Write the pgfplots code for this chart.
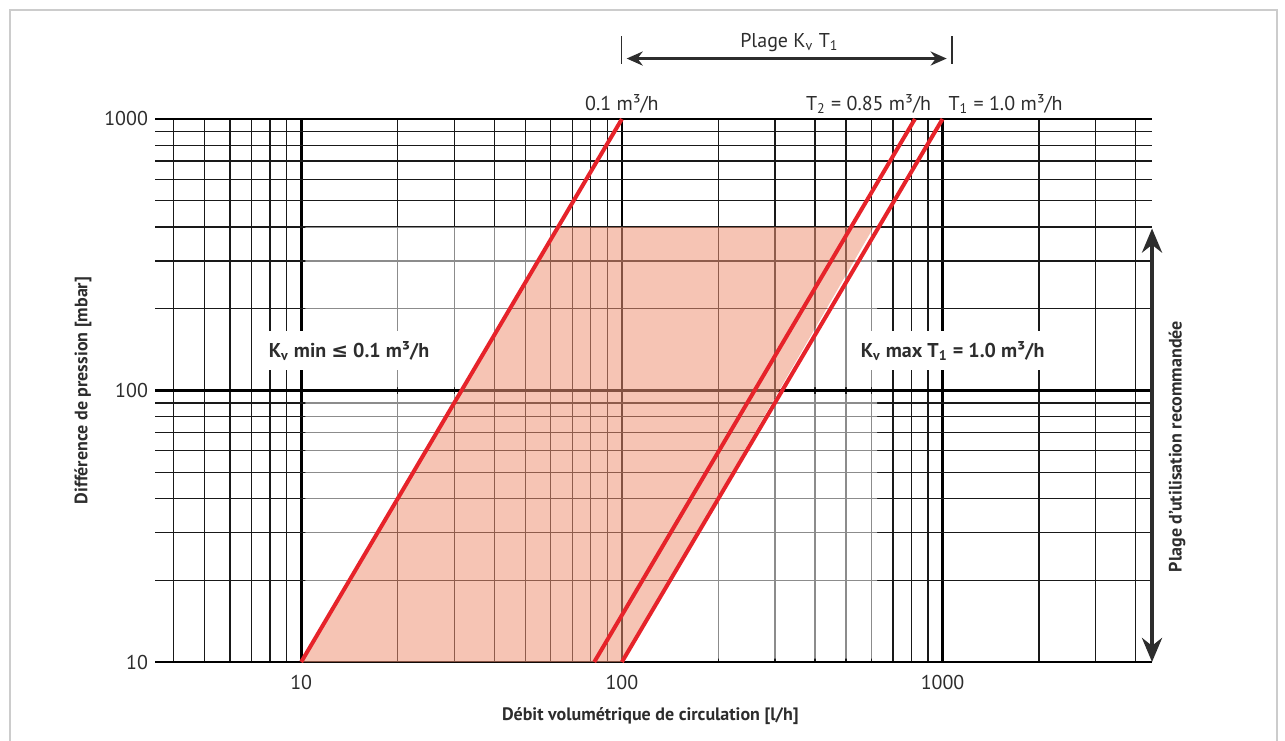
\documentclass[border=0pt]{standalone}
\usepackage{fontspec}
\setmainfont{PT Sans}
\newfontfamily\symf{DejaVu Sans}
\usepackage{pgfplots}
\pgfplotsset{compat=1.18}
\usetikzlibrary{arrows.meta}
\definecolor{shade}{RGB}{239,148,119}
\definecolor{kvred}{RGB}{230,35,42}
\definecolor{txt}{RGB}{45,45,45}
\begin{document}
\begin{tikzpicture}
\path[use as bounding box] (0,0) rectangle (642.5pt,370pt);
\draw[black!20, line width=0.8pt] (5pt,-5pt) -- (5pt,365pt) -- (638.5pt,365pt) -- (638.5pt,-5pt);
\begin{axis}[
  at={(77.5pt,39pt)}, anchor=south west,
  scale only axis, width=498.5pt, height=271.5pt,
  xmode=log, ymode=log, xmin=3.5, xmax=4500, ymin=10, ymax=1000,
  axis line style={draw=none},
  major tick length=0pt, minor tick length=0pt, clip=false,
  xtick={10,100,1000}, xticklabels={10,100,1000},
  ytick={10,100,1000}, yticklabels={10,100,1000},
  minor xtick={4,5,6,7,8,9,20,30,40,50,60,70,80,90,200,300,400,500,600,700,800,900,2000,3000,4000},
  minor ytick={20,30,40,50,60,70,80,90,200,300,400,500,600,700,800,900},
  grid=both,
  major grid style={black, line width=1.3pt},
  minor grid style={black!90, line width=0.65pt},
  tick label style={font=\fontsize{10}{12}\selectfont, text=txt},
  xticklabel style={yshift=-3pt},
]
% lighter grid in the recommended zone (unshaded parts), sparing the 100 mbar line
\addplot[draw=none, fill=white, fill opacity=0.5] coordinates {(10.3,10.3) (10.3,97) (31.1,97)} -- cycle;
\addplot[draw=none, fill=white, fill opacity=0.5] coordinates {(10.3,103) (10.3,400) (63.25,400) (32.1,103)} -- cycle;
\addplot[draw=none, fill=white, fill opacity=0.5] coordinates {(101,10.3) (305,97) (625,97) (625,10.3)} -- cycle;
\addplot[draw=none, fill=white, fill opacity=0.5] coordinates {(314,103) (610,400) (625,400) (625,103)} -- cycle;
% shaded zone
\addplot[draw=none, fill=shade, fill opacity=0.55] coordinates {(10,10) (63.25,400) (610,400) (100,10)} -- cycle;
% Kv lines
\addplot[kvred, line width=2pt] coordinates {(10,10) (100,1000)};
\addplot[kvred, line width=2pt] coordinates {(82,10) (820,1000)};
\addplot[kvred, line width=2pt] coordinates {(100,10) (1000,1000)};
% top range arrow
\draw[line width=0.6pt, txt] (axis cs:100,1601) -- (axis cs:100,2030);
\draw[line width=0.6pt, txt] (axis cs:1070,1601) -- (axis cs:1070,2030);
\draw[line width=1.6pt, txt, {Stealth[length=8pt,width=7pt]}-{Stealth[length=8pt,width=7pt]}] (axis cs:103.5,1670) -- (axis cs:1030,1670);
\node[text=txt, font=\fontsize{10}{12}\selectfont] at (axis cs:333,1913) {Plage K\textsubscript{v} T\textsubscript{1}};
% labels above the lines
\node[text=txt, font=\fontsize{10}{12}\selectfont] at (axis cs:100,1140) {0.1 m³/h};
\node[text=txt, font=\fontsize{10}{12}\selectfont] at (axis cs:588,1140) {T\textsubscript{2} = 0.85 m³/h};
\node[text=txt, font=\fontsize{10}{12}\selectfont] at (axis cs:1573,1140) {T\textsubscript{1} = 1.0 m³/h};
% boxed labels
\node[fill=white, text=txt, inner xsep=3pt, inner ysep=5pt, font=\bfseries\fontsize{10}{12}\selectfont] at (axis cs:14.1,140) {K\textsubscript{v} min {\symf\bfseries ≤} 0.1 m³/h};
\node[fill=white, text=txt, inner xsep=3pt, inner ysep=5pt, font=\bfseries\fontsize{10}{12}\selectfont] at (axis cs:1075,140) {K\textsubscript{v} max T\textsubscript{1} = 1.0 m³/h};
% right arrow
\draw[line width=2.2pt, txt, {Stealth[length=12pt,width=10pt]}-{Stealth[length=12pt,width=10pt]}] (axis cs:4500,395) -- (axis cs:4500,10);
\node[rotate=90, text=txt, font=\bfseries\fontsize{9}{11}\selectfont] at (axis cs:5390,62.2) {Plage d’utilisation recommandée};
% axis labels
\node[text=txt, font=\bfseries\fontsize{9}{11}\selectfont] at (axis cs:122.7,6.30) {Débit volumétrique de circulation [l/h]};
\node[rotate=90, text=txt, font=\bfseries\fontsize{9}{11}\selectfont] at (axis cs:2.088,100) {Différence de pression [mbar]};
\end{axis}
\end{tikzpicture}
\end{document}
